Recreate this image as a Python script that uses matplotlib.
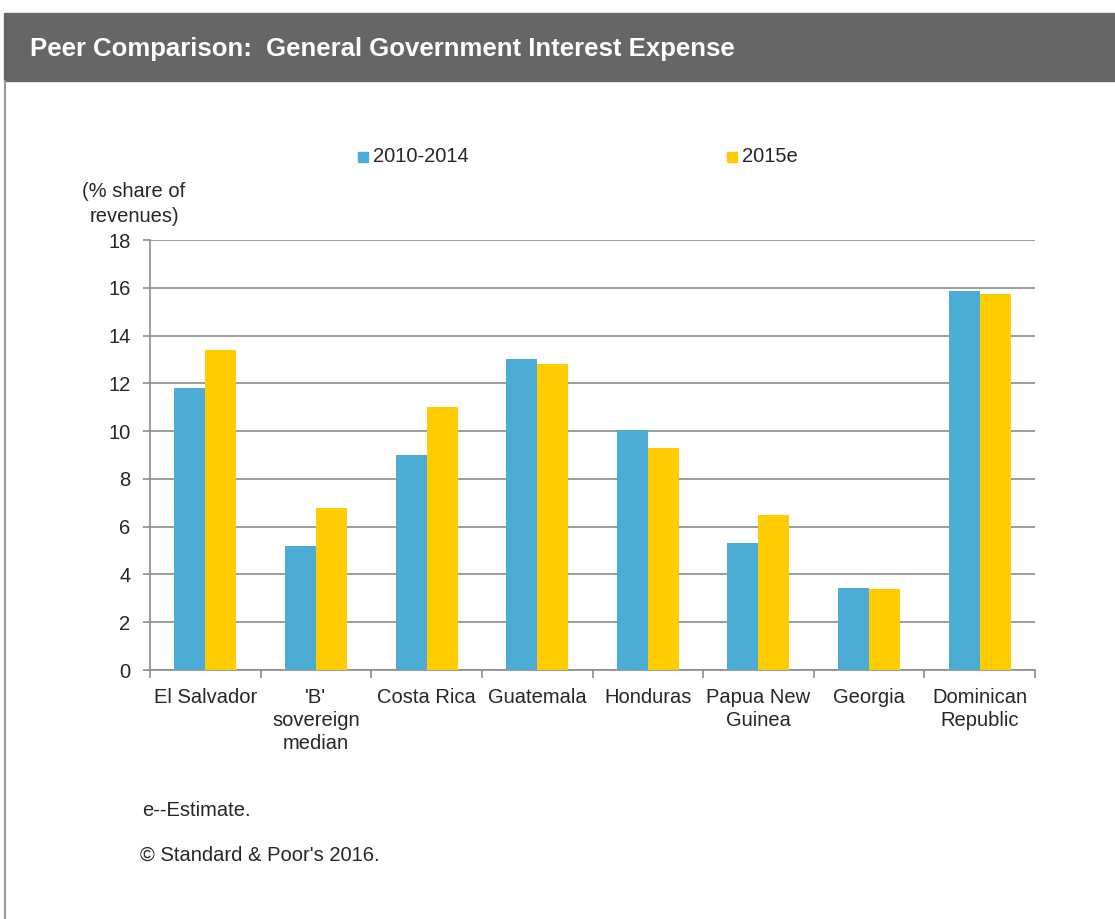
import numpy as np
import matplotlib.pyplot as plt
from matplotlib.patches import Rectangle
from matplotlib.lines import Line2D

plt.rcParams['font.family'] = ['Liberation Sans', 'DejaVu Sans']

categories = ["El Salvador", "'B'\nsovereign\nmedian", "Costa Rica", "Guatemala",
              "Honduras", "Papua New\nGuinea", "Georgia", "Dominican\nRepublic"]
avg_2010_2014 = [11.8, 5.2, 9.0, 13.0, 10.05, 5.3, 3.45, 15.85]
est_2015 = [13.4, 6.8, 11.0, 12.8, 9.3, 6.5, 3.4, 15.75]
series_names = ["2010-2014", "2015e"]
yticks = [0, 2, 4, 6, 8, 10, 12, 14, 16, 18]

blue = '#4BACD6'
yellow = '#FFCC00'
grid_col = '#8c8c8c'
text_col = '#262626'
fs = 14.5

W, H = 1115, 919
fig = plt.figure(figsize=(W / 100, H / 100), dpi=100)

# header bar and frame
fig.patches.append(Rectangle((4 / W, 1 - 81 / H), 1 - 4 / W, 68 / H,
                             transform=fig.transFigure, color='#666666', zorder=0))
fig.lines.append(Line2D([4.5 / W, 4.5 / W], [0, 1 - 81 / H], transform=fig.transFigure,
                        color='#999999', lw=1.5))
fig.text(30 / W, 1 - 49 / H, "Peer Comparison:  General Government Interest Expense",
         color='white', fontsize=18.5, fontweight='bold', va='center', ha='left')

ax = fig.add_axes([150 / W, 1 - 670 / H, 885 / W, 430 / H])
x = np.arange(len(categories))
bw = 0.28
ax.bar(x - bw / 2, avg_2010_2014, bw, color=blue, zorder=3, label=series_names[0])
ax.bar(x + bw / 2, est_2015, bw, color=yellow, zorder=3, label=series_names[1])

ax.set_xlim(-0.5, len(categories) - 0.5)
ax.set_ylim(0, 18)
ax.set_yticks(yticks)
ax.yaxis.grid(True, color=grid_col, lw=1.2, zorder=0)
ax.set_axisbelow(True)
for s in ['top', 'right']:
    ax.spines[s].set_visible(False)
ax.spines['left'].set_color(grid_col)
ax.spines['bottom'].set_color(grid_col)
ax.spines['left'].set_linewidth(1.2)
ax.spines['bottom'].set_linewidth(1.2)

ax.set_xticks(x)
ax.set_xticklabels(categories, fontsize=fs, color=text_col, linespacing=1.28)
ax.tick_params(axis='x', length=0, pad=13)
ax.set_xticks(np.arange(-0.5, len(categories)), minor=True)
ax.tick_params(axis='x', which='minor', length=6, color=grid_col, width=1.2)
ax.tick_params(axis='y', length=5, color=grid_col, width=1.2, labelsize=fs,
               labelcolor=text_col, pad=9)

fig.text(134 / W, 1 - 204 / H, "(% share of\nrevenues)", ha='center', va='center',
         fontsize=fs, color=text_col, linespacing=1.45)

# legend
for xp, col, name in [(358, blue, series_names[0]), (727, yellow, series_names[1])]:
    fig.patches.append(Rectangle((xp / W, 1 - 162 / H), 10 / W, 10 / H,
                                 transform=fig.transFigure, color=col))
    fig.text((xp + 15) / W, 1 - 157 / H, name, ha='left', va='center',
             fontsize=fs, color=text_col)

fig.text(142 / W, 1 - 810 / H, "e--Estimate.", fontsize=fs, color=text_col, va='center')
fig.text(140 / W, 1 - 855 / H, "\u00a9 Standard & Poor's 2016.", fontsize=fs,
         color=text_col, va='center')

fig.savefig('out.png', dpi=100)
